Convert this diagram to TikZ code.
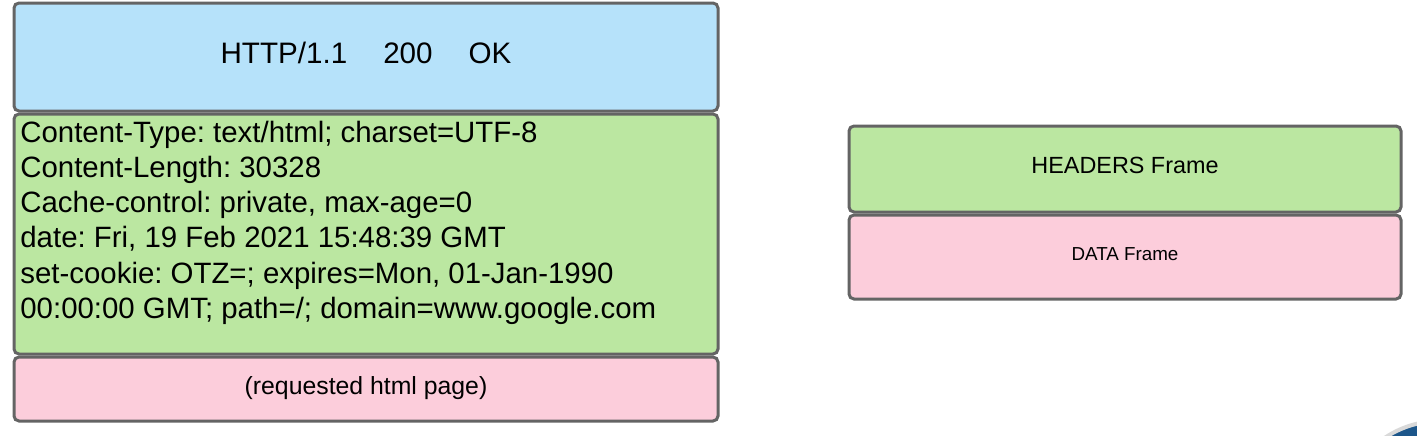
\documentclass[tikz,border=0pt]{standalone}
\usepackage{fontspec}
\setmainfont{Liberation Sans}
\frenchspacing
\definecolor{boxblue}{RGB}{182,226,250}
\definecolor{boxgreen}{RGB}{187,231,161}
\definecolor{boxpink}{RGB}{252,205,219}
\definecolor{boxline}{RGB}{100,100,100}
\definecolor{logoblue}{RGB}{28,86,138}
\tikzset{
  x=0.5pt, y=-0.5pt,
  frame/.style={draw=boxline, line width=1.5pt, rounded corners=2.5pt},
  hdrtext/.style={font=\fontsize{14.7pt}{17.5pt}\selectfont, inner sep=0pt, anchor=base west},
}
\begin{document}
\begin{tikzpicture}
\useasboundingbox (0,0) rectangle (1417,435);
\begin{scope}
\clip (0,0) rectangle (1417,435);
\fill[logoblue, draw=white!85!black, line width=2pt] (1440,520) circle[radius=99];
\end{scope}
% left boxes
\draw[frame, fill=boxblue] (14,3) rectangle (718,111);
\draw[frame, fill=boxgreen] (14,114) rectangle (718,354);
\draw[frame, fill=boxpink] (14,357) rectangle (718,421);
% right boxes
\draw[frame, fill=boxgreen] (849,126) rectangle (1401,212);
\draw[frame, fill=boxpink] (849,215) rectangle (1401,299);
% texts
\node[font=\fontsize{14.8pt}{17.5pt}\selectfont, inner sep=0pt, anchor=base] (status) at (366,63) {HTTP/1.1\hspace{18pt}200\hspace{18pt}OK};
\node[hdrtext] (l1) at (20,142) {Content-Type: text/html; charset=UTF-8};
\node[hdrtext] (l2) at (20,177.3) {Content-Length: 30328};
\node[hdrtext] (l3) at (20,212.6) {Cache-control: private, max-age=0};
\node[hdrtext] (l4) at (20,247.9) {date: Fri, 19 Feb 2021 15:48:39 GMT};
\node[hdrtext] (l5) at (20,283.2) {set-cookie: OTZ=; expires=Mon, 01-Jan-1990};
\node[hdrtext] (l6) at (20,318.5) {00:00:00 GMT; path=/; domain=www.google.com};
\node[font=\fontsize{12.4pt}{15pt}\selectfont, inner sep=0pt, anchor=base] (body) at (366,394) {(requested html page)};
\node[font=\fontsize{11.7pt}{14pt}\selectfont, inner sep=0pt, anchor=base] (hf) at (1125,173) {HEADERS Frame};
\node[font=\fontsize{9.4pt}{11pt}\selectfont, inner sep=0pt, anchor=base] (df) at (1125,260) {DATA Frame};
\end{tikzpicture}
\end{document}
